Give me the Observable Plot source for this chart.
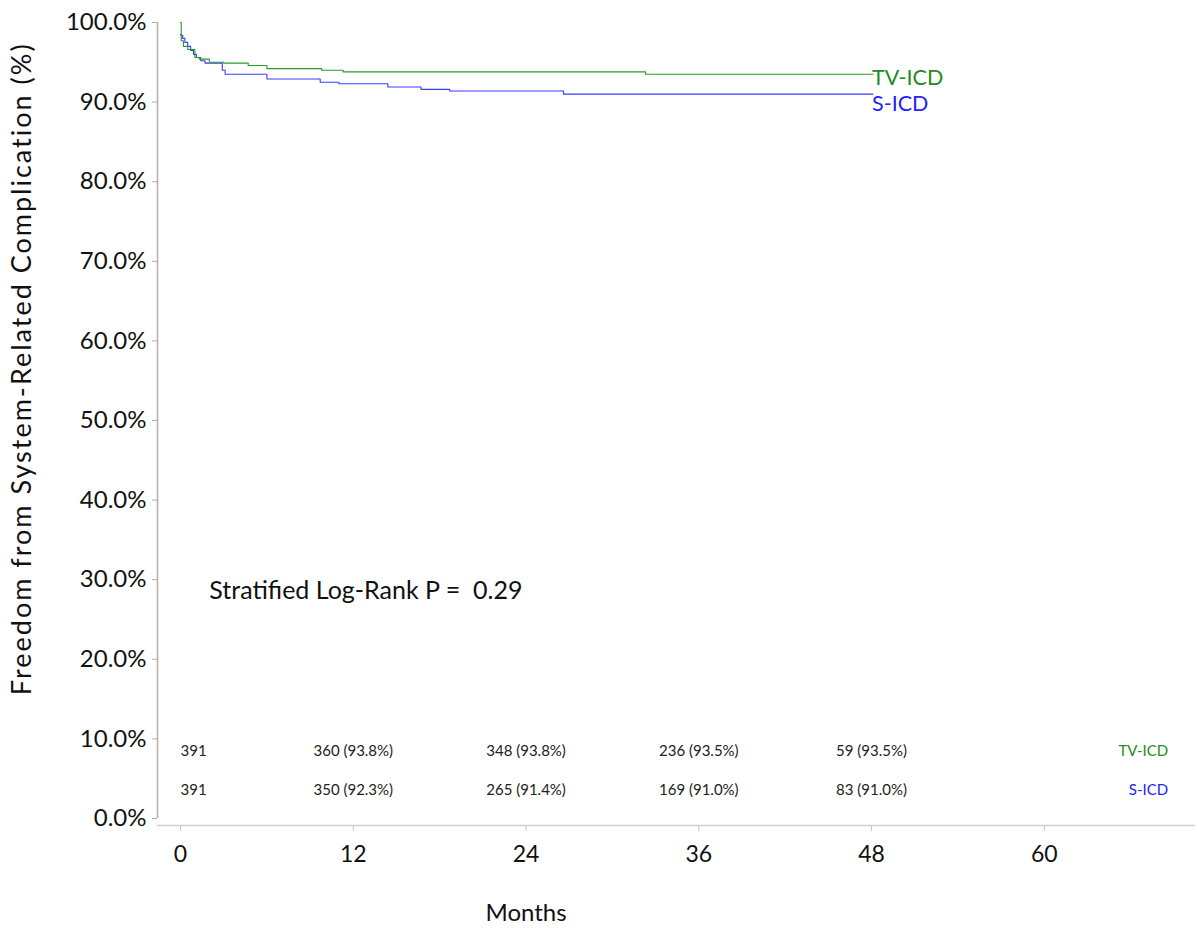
<!DOCTYPE html>
<html>
<head>
<meta charset="utf-8">
<script src="https://cdn.jsdelivr.net/npm/d3@7"></script>
<script src="https://cdn.jsdelivr.net/npm/@observablehq/plot@0.6"></script>
<style>
  html, body { margin: 0; padding: 0; background: #fff; }
  #chart svg { display: block; }
</style>
</head>
<body>
<div id="chart"></div>
<script>
// Kaplan-Meier step data (months, freedom %)
const tvTime = [0, 0.05, 0.2, 0.5, 1.0, 1.3, 2.0, 3.0, 4.7, 6.0, 9.8, 11.3, 32.3, 48.1];
const tvSurv = [100, 97.7, 97.0, 96.6, 95.6, 95.4, 95.0, 94.9, 94.6, 94.2, 94.0, 93.8, 93.5, 93.5];

const sTime = [0, 0.02, 0.15, 0.3, 0.5, 0.7, 0.9, 1.1, 1.4, 1.7, 2.9, 3.1, 6.0, 9.7, 11.0, 14.4, 16.7, 18.7, 26.6, 48.1];
const sSurv = [98.5, 98.4, 98.0, 97.5, 97.0, 96.5, 96.0, 95.6, 95.2, 94.9, 94.0, 93.5, 92.9, 92.5, 92.3, 91.9, 91.6, 91.4, 91.0, 91.0];

// Number at risk table
const riskMonths = [0, 12, 24, 36, 48];
const tvAtRisk = [391, 360, 348, 236, 59];
const tvRiskPct = [null, 93.8, 93.8, 93.5, 93.5];
const sAtRisk = [391, 350, 265, 169, 83];
const sRiskPct = [null, 92.3, 91.4, 91.0, 91.0];

const groups = ["TV-ICD", "S-ICD"];
const groupColors = {"TV-ICD": "#2a9a2a", "S-ICD": "#3b3bff"};
const textColors = {"TV-ICD": "#1e8c1e", "S-ICD": "#2222ff"};

const xTicks = [0, 12, 24, 36, 48, 60];
const yTicks = [0, 10, 20, 30, 40, 50, 60, 70, 80, 90, 100];
const xTitle = "Months";
const yTitle = "Freedom from System-Related Complication (%)";
const pValueText = "Stratified Log-Rank P = \u00a00.29";

const tvData = tvTime.map((t, i) => ({group: "TV-ICD", t, s: tvSurv[i]}));
const sData = sTime.map((t, i) => ({group: "S-ICD", t, s: sSurv[i]}));
const curves = [...sData, ...tvData];

const rowLevel = {"TV-ICD": 8.5, "S-ICD": 3.5};
const risk = [
  ...riskMonths.map((m, i) => ({group: "TV-ICD", m, n: tvAtRisk[i], p: tvRiskPct[i]})),
  ...riskMonths.map((m, i) => ({group: "S-ICD", m, n: sAtRisk[i], p: sRiskPct[i]}))
];
const riskLabel = d => d.p == null ? String(d.n) : `${d.n} (${d.p.toFixed(1)}%)`;

const xDomain = [-1.6, 70.5];
const yDomain = [-0.88, 100];
const font = "Lato, 'Open Sans', sans-serif";
const axisGray = "#b0b0b0";

const chart = Plot.plot({
  width: 1198,
  height: 930,
  marginLeft: 157,
  marginRight: 3,
  marginTop: 22,
  marginBottom: 105,
  style: {fontFamily: font, background: "#fff", color: "#111"},
  x: {domain: xDomain},
  y: {domain: yDomain},
  marks: [
    // axis lines
    Plot.ruleX([xDomain[0]], {y1: 0, y2: 100, stroke: axisGray, strokeWidth: 1.5}),
    Plot.ruleY([yDomain[0]], {stroke: "#d0d0d0", strokeWidth: 1.5}),
    Plot.axisY({
      ticks: yTicks, tickFormat: d => d.toFixed(1) + "%", tickSize: 5, tickPadding: 6,
      fontSize: 24, stroke: axisGray, fill: "#111", label: null
    }),
    Plot.axisX({
      ticks: xTicks, tickSize: 6, tickPadding: 14, fontSize: 23, stroke: "#c8c8c8", fill: "#111", label: null
    }),
    // axis titles
    Plot.text([yTitle], {y: 56.5, frameAnchor: "left", textAnchor: "middle", lineAnchor: "middle", dx: -135, rotate: -90, text: d => d, fontSize: 27, fill: "#111"}),
    Plot.text([xTitle], {x: 24, frameAnchor: "bottom", lineAnchor: "middle", dy: 88, text: d => d, fontSize: 24, fill: "#111"}),
    // KM curves
    Plot.line(curves, {x: "t", y: "s", z: "group", stroke: d => groupColors[d.group], curve: "step-after", strokeWidth: 1.1}),
    // end labels
    Plot.text(tvData.slice(-1), {x: "t", y: "s", text: "group", fill: textColors["TV-ICD"], textAnchor: "start", dy: 4, dx: -1, fontSize: 21.5}),
    Plot.text(sData.slice(-1), {x: "t", y: "s", text: "group", fill: textColors["S-ICD"], textAnchor: "start", dy: 10, dx: -1, fontSize: 21.5}),
    // p-value
    Plot.text([pValueText], {x: 2.0, y: 28.6, text: d => d, textAnchor: "start", fontSize: 25, fill: "#111"}),
    // number at risk
    Plot.text(risk.filter(d => d.m === 0), {x: "m", y: d => rowLevel[d.group], text: riskLabel,
      textAnchor: "start", fontSize: 15, fill: "#222"}),
    Plot.text(risk.filter(d => d.m !== 0), {x: "m", y: d => rowLevel[d.group], text: riskLabel,
      textAnchor: "middle", fontSize: 15, fill: "#222"}),
    Plot.text(groups, {x: 68.6, y: d => rowLevel[d], text: d => d, fill: d => textColors[d], textAnchor: "end", fontSize: 15})
  ]
});
// widen the y-axis title slightly, as in the reference
d3.select(chart).selectAll("text").filter(function() { return this.textContent === yTitle; })
  .attr("letter-spacing", "2px");
document.getElementById("chart").appendChild(chart);
</script>
</body>
</html>
